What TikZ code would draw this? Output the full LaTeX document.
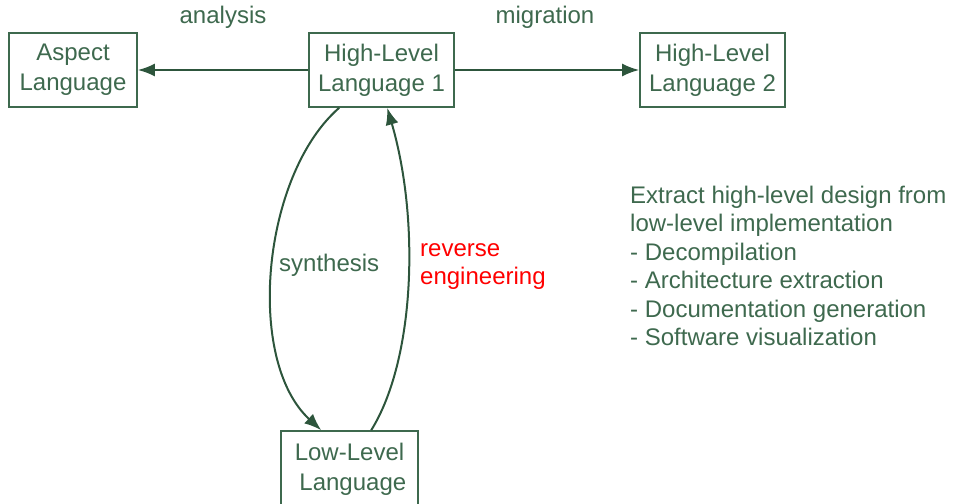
\documentclass[tikz,border=0pt]{standalone}
\usepackage{fontspec}
\setmainfont{Liberation Sans}
\usetikzlibrary{arrows.meta,calc}
\definecolor{dg}{RGB}{62,105,78}
\definecolor{dgd}{RGB}{45,85,60}
\tikzset{
  langbox/.style={draw=dg, line width=1.6pt, text=dg, align=center,
    inner sep=0pt, font=\fontsize{24}{30}\selectfont},
  lbl/.style={text=dg, inner sep=0pt, font=\fontsize{24}{28.4}\selectfont},
  conn/.style={draw=dg, line width=2pt, -{Latex[length=17pt,width=13pt]}, dgd},
}
\begin{document}
\begin{tikzpicture}[x=1pt,y=-1pt]
\useasboundingbox (0,0) rectangle (955,503);
\node[langbox, minimum width=128pt, minimum height=74pt] (asp) at (73,70) {Aspect\\Language};
\node[langbox, minimum width=145pt, minimum height=74pt] (hl1) at (381.5,70) {High-Level\\Language 1};
\node[langbox, minimum width=145pt, minimum height=74pt] (hl2) at (712.5,70) {High-Level\\Language 2};
\begin{scope}
\clip (0,0) rectangle (955,503);
\node[langbox, minimum width=137pt, minimum height=76pt] (low) at (349.5,469) {Low-Level\\\ Language};
\end{scope}
\draw[conn] (hl1.west) -- (asp.east);
\draw[conn] (hl1.east) -- (hl2.west);
\draw[conn] ($(hl1.south west)+(31,0)$) .. controls (262,175) and (245,360) .. ($(low.north west)+(41,0)$);
\draw[conn] ($(low.north west)+(91,0)$) .. controls (415,360) and (420,220) .. ($(hl1.south west)+(79,0)$);
\node[lbl] (an) at (223,17) {analysis};
\node[lbl] (mi) at (545,17) {migration};
\node[lbl, anchor=west] (sy) at (279,265) {synthesis};
\node[lbl, anchor=north west, align=left, text=red] (re) at (420,243) {reverse\\engineering};
\node[lbl, anchor=north west, align=left] (ex) at (630,186) {Extract high-level design from\\low-level implementation\\- Decompilation\\- Architecture extraction\\- Documentation generation\\- Software visualization};
\end{tikzpicture}
\end{document}
